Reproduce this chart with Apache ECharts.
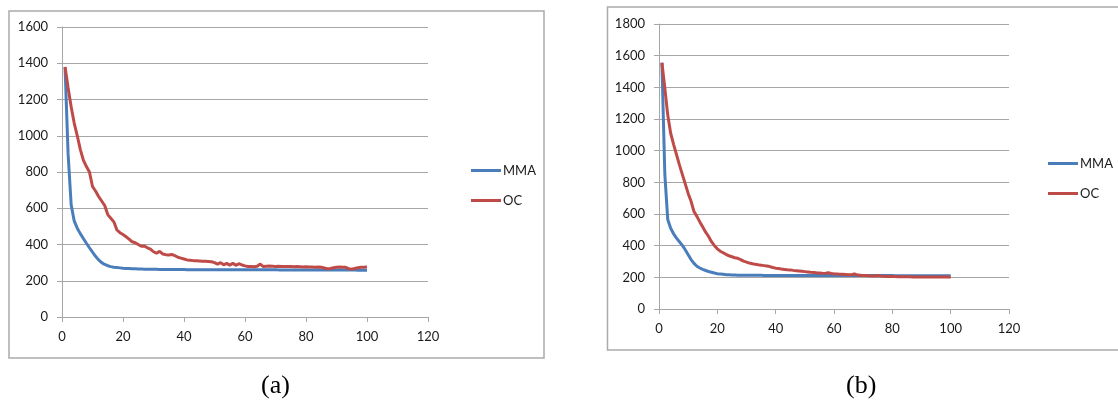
<!DOCTYPE html>
<html>
<head>
<meta charset="utf-8">
<script src="https://cdn.jsdelivr.net/npm/echarts@6/dist/echarts.min.js"></script>
<style>
html,body{margin:0;padding:0;background:#fff;}
#chart{width:1118px;height:406px;}
</style>
</head>
<body>
<div id="chart"></div>
<script>
// ---- data ----
const seriesNames = ['MMA', 'OC'];
const xTicks = [0, 20, 40, 60, 80, 100, 120];
const yTicksA = [0, 200, 400, 600, 800, 1000, 1200, 1400, 1600];
const yTicksB = [0, 200, 400, 600, 800, 1000, 1200, 1400, 1600, 1800];
const captions = ['(a)', '(b)'];

const mmaA = [1378, 900, 620, 530, 490, 460, 433, 407, 382, 358,
  335, 315, 300, 290, 283, 278, 275, 273, 271, 269,
  268, 267, 266, 266, 265, 265, 264, 264, 263, 263,
  263, 262, 262, 262, 262, 262, 262, 262, 262, 262,
  261, 261, 261, 261, 261, 261, 261, 261, 261, 261,
  261, 261, 261, 261, 261, 261, 261, 261, 261, 261,
  261, 261, 261, 261, 261, 261, 261, 261, 261, 261,
  260, 260, 260, 260, 260, 260, 260, 260, 260, 260,
  260, 260, 260, 260, 260, 260, 259, 259, 259, 259,
  259, 259, 259, 259, 259, 259, 258, 258, 258, 258];

const ocA = [1380, 1265, 1160, 1070, 1000, 925, 865, 830, 800, 720,
  695, 665, 640, 615, 565, 545, 525, 480, 465, 455,
  443, 430, 415, 410, 400, 390, 392, 382, 375, 360,
  352, 362, 348, 344, 342, 345, 338, 330, 325, 320,
  315, 313, 311, 310, 309, 308, 307, 306, 305, 300,
  292, 300, 288, 296, 286, 297, 285, 294, 287, 282,
  279, 278, 277, 280, 292, 278, 280, 281, 280, 279,
  280, 279, 278, 279, 278, 277, 278, 277, 276, 277,
  276, 276, 275, 276, 275, 270, 266, 268, 272, 274,
  276, 275, 274, 267, 264, 268, 272, 274, 275, 276];

const mmaB = [1555, 850, 565, 510, 475, 448, 425, 402, 374, 343,
  312, 288, 270, 259, 250, 243, 237, 232, 227, 223,
  221, 219, 217, 216, 215, 214, 213, 213, 213, 213,
  213, 213, 213, 213, 213, 212, 212, 212, 212, 212,
  212, 212, 212, 212, 212, 212, 212, 212, 212, 212,
  212, 212, 212, 212, 212, 212, 212, 212, 212, 212,
  211, 211, 211, 211, 211, 211, 211, 211, 211, 211,
  211, 211, 211, 211, 211, 211, 211, 211, 211, 211,
  210, 210, 210, 210, 210, 210, 210, 210, 210, 210,
  210, 210, 210, 210, 210, 210, 210, 210, 210, 210];

const ocB = [1555, 1395, 1225, 1110, 1040, 975, 910, 850, 790, 730,
  680, 615, 585, 550, 518, 485, 458, 425, 400, 380,
  365, 355, 345, 336, 330, 324, 320, 312, 302, 296,
  290, 286, 282, 279, 277, 274, 271, 268, 262, 258,
  256, 252, 250, 248, 247, 244, 242, 240, 238, 236,
  234, 232, 231, 229, 228, 226, 225, 230, 224, 222,
  221, 220, 219, 218, 217, 216, 222, 214, 213, 212,
  211, 210, 209, 209, 212, 208, 207, 206, 206, 205,
  205, 204, 204, 203, 203, 203, 202, 202, 202, 202,
  202, 202, 202, 202, 202, 202, 202, 202, 202, 202];

// ---- build ----
const pairs = arr => arr.map((v, i) => [i + 1, v]);
const colors = ['#4A7EBB', '#BE4B48'];
const FONT = 'Lato';
const LABEL_COLOR = '#1a1a1a';
const GRID_COLOR = '#a6a6a6';
const plain = v => String(v);

function xAxis(gi) {
  return {
    type: 'value', gridIndex: gi, min: xTicks[0], max: xTicks[xTicks.length - 1],
    interval: xTicks[1] - xTicks[0],
    axisLine: {show: true, lineStyle: {color: GRID_COLOR, width: 1}},
    axisTick: {show: true, inside: false, length: 5, lineStyle: {color: GRID_COLOR}},
    axisLabel: {color: LABEL_COLOR, fontFamily: FONT, fontSize: 13, margin: 13, formatter: plain},
    splitLine: {show: false}
  };
}
function yAxis(gi, ticks) {
  return {
    type: 'value', gridIndex: gi, min: ticks[0], max: ticks[ticks.length - 1],
    interval: ticks[1] - ticks[0],
    axisLine: {show: true, lineStyle: {color: GRID_COLOR, width: 1}},
    axisTick: {show: true, inside: false, length: 5, lineStyle: {color: GRID_COLOR}},
    axisLabel: {color: LABEL_COLOR, fontFamily: FONT, fontSize: 13, margin: 14, formatter: plain},
    splitLine: {show: true, lineStyle: {color: GRID_COLOR, width: 1}}
  };
}
function line(name, data, gi, color) {
  return {
    name: name, type: 'line', xAxisIndex: gi, yAxisIndex: gi,
    data: pairs(data), symbol: 'none', smooth: false,
    lineStyle: {color: color, width: 3}, itemStyle: {color: color},
    emphasis: {disabled: true}, animation: false
  };
}
function legend(left, top) {
  return {
    data: seriesNames, orient: 'vertical', left: left, top: top,
    icon: 'rect', itemWidth: 30, itemHeight: 3, itemGap: 17,
    textStyle: {color: LABEL_COLOR, fontFamily: FONT, fontSize: 13, padding: [0, 0, 0, -3]},
    selectedMode: false
  };
}

const chart = echarts.init(document.getElementById('chart'));
chart.setOption({
  animation: false,
  backgroundColor: '#fff',
  color: colors,
  grid: [
    {left: 62, top: 27, width: 366, height: 290, containLabel: false},
    {left: 659, top: 24, width: 350, height: 285, containLabel: false}
  ],
  xAxis: [xAxis(0), xAxis(1)],
  yAxis: [yAxis(0, yTicksA), yAxis(1, yTicksB)],
  legend: [legend(466, 159), legend(1043, 152)],
  series: [
    line(seriesNames[0], mmaA, 0, colors[0]),
    line(seriesNames[1], ocA, 0, colors[1]),
    line(seriesNames[0], mmaB, 1, colors[0]),
    line(seriesNames[1], ocB, 1, colors[1])
  ],
  graphic: [
    {type: 'rect', silent: true, z: -1, shape: {x: 9, y: 11, width: 535, height: 347},
      style: {fill: 'none', stroke: '#aaaaaa', lineWidth: 1.5}},
    {type: 'rect', silent: true, z: -1, shape: {x: 607.5, y: 7, width: 530, height: 343},
      style: {fill: 'none', stroke: '#aaaaaa', lineWidth: 1.5}},
    {type: 'text', silent: true, left: 277 - 16, top: 373,
      style: {text: captions[0], font: '26px "Liberation Serif"', fill: '#000'}},
    {type: 'text', silent: true, left: 863 - 17, top: 373,
      style: {text: captions[1], font: '26px "Liberation Serif"', fill: '#000'}}
  ]
});
</script>
</body>
</html>
